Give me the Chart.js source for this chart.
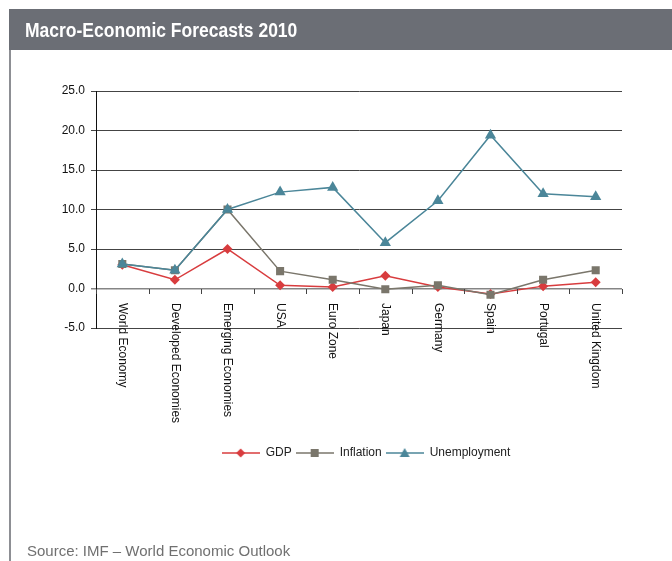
<!DOCTYPE html>
<html>
<head>
<meta charset="utf-8">
<title>Macro-Economic Forecasts 2010</title>
<script src="https://cdn.jsdelivr.net/npm/chart.js@4.4.0/dist/chart.umd.min.js"></script>
<style>
  html, body { margin: 0; padding: 0; background: #fff; }
  body { width: 672px; height: 561px; position: relative; overflow: hidden; font-family: "Liberation Sans", Arial, sans-serif; }
  .header {
    position: absolute; left: 9px; top: 9px; right: 0; height: 41px;
    background: #6b6e75; color: #fff;
    font: bold 20px "Liberation Sans", Arial, sans-serif;
    line-height: 43px; padding-left: 16px; box-sizing: border-box;
  }
  .header span { display: inline-block; transform: scaleX(0.875); transform-origin: left center; }
  .rule { position: absolute; left: 9px; top: 50px; width: 2px; height: 511px; background: #8d8f94; }
  .source { position: absolute; left: 27px; top: 542px; font-size: 15px; color: #707070; }
  .chart-box { position: absolute; left: 0; top: 0; width: 672px; height: 561px; }
</style>
</head>
<body>
<div class="chart-box"><canvas id="forecastChart"></canvas></div>
<div class="header"><span>Macro-Economic Forecasts 2010</span></div>
<div class="rule"></div>
<div class="source">Source: IMF – World Economic Outlook</div>

<script>
var categories = ['World Economy', 'Developed Economies', 'Emerging Economies', 'USA', 'Euro Zone',
                  'Japan', 'Germany', 'Spain', 'Portugal', 'United Kingdom'];
var gdp          = [3.0, 1.1, 5.0, 0.4, 0.2, 1.6, 0.2, -0.7, 0.3, 0.8];
var inflation    = [3.1, 2.3, 10.0, 2.2, 1.1, -0.1, 0.4, -0.8, 1.1, 2.3];
var unemployment = [3.1, 2.3, 10.0, 12.2, 12.8, 5.8, 11.1, 19.4, 12.0, 11.6];
var yMin = -5, yMax = 25, yStep = 5;

var RED = '#d83c3e', GREY = '#7a766b', TEAL = '#4b8699';

// small line-and-marker swatches for the legend
function swatch(color, shape) {
  var c = document.createElement('canvas');
  c.width = 38; c.height = 12;
  var g = c.getContext('2d');
  g.strokeStyle = color; g.fillStyle = color; g.lineWidth = 1.5;
  g.beginPath(); g.moveTo(0, 6); g.lineTo(38, 6); g.stroke();
  g.beginPath();
  if (shape === 'diamond') {
    g.moveTo(19, 1.5); g.lineTo(23.5, 6); g.lineTo(19, 10.5); g.lineTo(14.5, 6);
  } else if (shape === 'square') {
    g.rect(15, 2, 8, 8);
  } else {
    g.moveTo(19, 1); g.lineTo(24, 10); g.lineTo(14, 10);
  }
  g.closePath(); g.fill();
  return c;
}
var legendIcons = [swatch(RED, 'diamond'), swatch(GREY, 'square'), swatch(TEAL, 'triangle')];

// category ticks and rotated names sit on the zero line
var zeroAxisLabels = {
  id: 'zeroAxisLabels',
  afterDraw: function(chart) {
    var ctx = chart.ctx, xs = chart.scales.x, ys = chart.scales.y;
    var y0 = Math.round(ys.getPixelForValue(0));
    ctx.save();
    ctx.strokeStyle = '#444';
    ctx.lineWidth = 1;
    for (var i = 0; i <= categories.length; i++) {
      var x = Math.round(xs.getPixelForValue(i - 0.5)) + 0.5;
      ctx.beginPath(); ctx.moveTo(x, y0); ctx.lineTo(x, y0 + 5); ctx.stroke();
    }
    ctx.fillStyle = '#111';
    ctx.font = '12px "Liberation Sans", Arial, sans-serif';
    ctx.textAlign = 'left';
    ctx.textBaseline = 'middle';
    categories.forEach(function(name, i) {
      ctx.save();
      ctx.translate(xs.getPixelForValue(i), y0 + 14);
      ctx.rotate(Math.PI / 2);
      ctx.fillText(name, 0, 0);
      ctx.restore();
    });
    ctx.restore();
  }
};

new Chart('forecastChart', {
  type: 'line',
  data: {
    labels: categories,
    datasets: [{
      label: 'GDP',
      data: gdp,
      borderColor: RED,
      backgroundColor: RED,
      borderWidth: 1.5,
      pointStyle: 'rectRot',
      pointRadius: 5,
      pointBorderWidth: 0,
      order: 2
    }, {
      label: 'Inflation',
      data: inflation,
      borderColor: GREY,
      backgroundColor: GREY,
      borderWidth: 1.5,
      pointStyle: 'rect',
      pointRadius: 5.7,
      pointBorderWidth: 0,
      order: 1
    }, {
      label: 'Unemployment',
      data: unemployment,
      borderColor: TEAL,
      backgroundColor: TEAL,
      borderWidth: 1.5,
      pointStyle: 'triangle',
      pointRadius: 6.5,
      pointBorderWidth: 0,
      order: 0
    }]
  },
  options: {
    responsive: true,
    maintainAspectRatio: false,
    animation: false,
    layout: { padding: { top: 91, left: 60, right: 0, bottom: 92 } },
    plugins: {
      tooltip: { enabled: false },
      legend: {
        position: 'bottom',
        labels: {
          usePointStyle: true,
          pointStyleWidth: 38,
          boxHeight: 12,
          padding: 4,
          color: '#222',
          font: { family: '"Liberation Sans", Arial, sans-serif', size: 12 },
          sort: function(a, b) { return a.datasetIndex - b.datasetIndex; },
          generateLabels: function(chart) {
            var items = Chart.defaults.plugins.legend.labels.generateLabels(chart);
            items.forEach(function(it) { it.pointStyle = legendIcons[it.datasetIndex]; });
            return items;
          }
        }
      }
    },
    scales: {
      x: {
        offset: true,
        ticks: { display: false },
        grid: { display: false },
        border: { display: false },
        afterFit: function(s) { s.height = 115; }
      },
      y: {
        min: yMin,
        max: yMax,
        ticks: {
          stepSize: yStep,
          padding: 6,
          color: '#111',
          font: { family: '"Liberation Sans", Arial, sans-serif', size: 12 },
          callback: function(v) { return v.toFixed(1); }
        },
        grid: {
          tickLength: 5,
          color: function(c) { return c.tick && c.tick.value === 0 ? '#858585' : '#444'; },
          lineWidth: function(c) { return c.tick && c.tick.value === 0 ? 1.5 : 1; }
        },
        border: { color: '#111', width: 1 },
        afterFit: function(s) { s.width = 36; }
      },
      y2: {
        position: 'right',
        ticks: { display: false },
        grid: { display: false },
        border: { display: false },
        afterFit: function(s) { s.width = 50; }
      }
    }
  },
  plugins: [zeroAxisLabels]
});
</script>
</body>
</html>
